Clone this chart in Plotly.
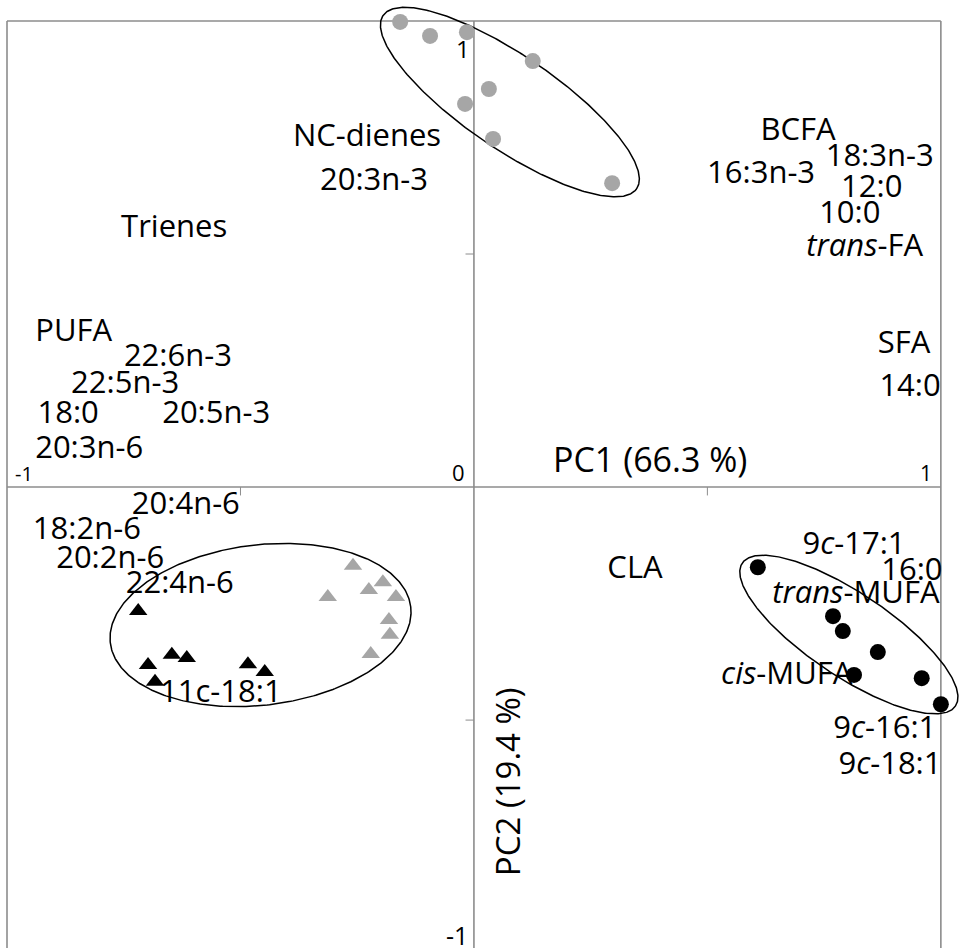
import numpy as np
import plotly.graph_objects as go

# ---- data (PC1, PC2 coordinates) ----
gray_circle_x = [-0.158, -0.094, -0.015, 0.126, 0.032, -0.019, 0.041, 0.296]
gray_circle_y = [0.998, 0.968, 0.976, 0.914, 0.854, 0.822, 0.747, 0.652]

black_circle_x = [0.608, 0.769, 0.790, 0.865, 0.814, 0.959, 1.000]
black_circle_y = [-0.172, -0.277, -0.309, -0.354, -0.403, -0.410, -0.466]

black_tri_x = [-0.719, -0.647, -0.615, -0.698, -0.683, -0.484, -0.448]
black_tri_y = [-0.266, -0.360, -0.367, -0.382, -0.418, -0.380, -0.397]

gray_tri_x = [-0.259, -0.313, -0.195, -0.225, -0.167, -0.182, -0.180, -0.221]
gray_tri_y = [-0.169, -0.236, -0.204, -0.221, -0.236, -0.285, -0.317, -0.358]

var_labels = ["NC-dienes", "20:3n-3", "Trienes", "BCFA", "18:3n-3", "16:3n-3",
              "12:0", "10:0", "<i>trans</i>-FA", "PUFA", "22:6n-3", "22:5n-3",
              "18:0", "20:5n-3", "20:3n-6", "20:4n-6", "18:2n-6", "20:2n-6",
              "22:4n-6", "11c-18:1", "SFA", "14:0", "CLA", "9<i>c</i>-17:1",
              "16:0", "<i>trans</i>-MUFA", "<i>cis</i>-MUFA", "9<i>c</i>-16:1",
              "9<i>c</i>-18:1"]
var_x = [-0.229, -0.214, -0.642, 0.694, 0.869, 0.615, 0.852, 0.805, 0.837,
         -0.857, -0.634, -0.747, -0.869, -0.552, -0.824, -0.617, -0.829, -0.779,
         -0.630, -0.542, 0.921, 0.934, 0.345, 0.814, 0.938, 0.818, 0.670,
         0.880, 0.891]
var_y = [0.749, 0.653, 0.554, 0.762, 0.706, 0.670, 0.640, 0.584, 0.513,
         0.329, 0.277, 0.219, 0.155, 0.155, 0.080, -0.042, -0.094, -0.156,
         -0.210, -0.444, 0.305, 0.213, -0.178, -0.126, -0.182, -0.233, -0.405,
         -0.521, -0.598]

# ellipses: centre x, centre y, semi-major, semi-minor, angle (deg)
ellipse_cx = [0.077, 0.803, -0.457]
ellipse_cy = [0.826, -0.3165, -0.296]
ellipse_a = [0.329, 0.275, 0.324]
ellipse_b = [0.100, 0.089, 0.172]
ellipse_ang = [-34.4, -33.9, 6.9]

tick_vals_text = ["1", "0", "-1", "1", "-1"]

GRAY = "#a6a6a6"
AX = "#8c8c8c"
FONT = "Open Sans"

fig = go.Figure()

# ellipses
t = np.linspace(0, 2 * np.pi, 400)
for cx, cy, a, b, ang in zip(ellipse_cx, ellipse_cy, ellipse_a, ellipse_b, ellipse_ang):
    p = np.deg2rad(ang)
    ex = cx + a * np.cos(t) * np.cos(p) - b * np.sin(t) * np.sin(p)
    ey = cy + a * np.cos(t) * np.sin(p) + b * np.sin(t) * np.cos(p)
    fig.add_trace(go.Scatter(x=ex, y=ey, mode="lines",
                             line=dict(color="black", width=1.5),
                             hoverinfo="skip", showlegend=False))

fig.add_trace(go.Scatter(x=gray_circle_x, y=gray_circle_y, mode="markers",
                         marker=dict(symbol="circle", size=16, color=GRAY),
                         showlegend=False, cliponaxis=False))
fig.add_trace(go.Scatter(x=black_circle_x, y=black_circle_y, mode="markers",
                         marker=dict(symbol="circle", size=16, color="black"),
                         showlegend=False, cliponaxis=False))
fig.add_trace(go.Scatter(x=black_tri_x, y=black_tri_y, mode="markers",
                         marker=dict(symbol="triangle-up", size=16, color="black"),
                         showlegend=False))
fig.add_trace(go.Scatter(x=gray_tri_x, y=gray_tri_y, mode="markers",
                         marker=dict(symbol="triangle-up", size=16, color=GRAY),
                         showlegend=False))

fig.add_trace(go.Scatter(x=var_x, y=var_y, mode="text", text=var_labels,
                         textposition="middle center",
                         textfont=dict(family=FONT, size=31, color="black"),
                         showlegend=False, cliponaxis=False))

# frame and axes
shapes = []
line = dict(color=AX, width=1.6)
shapes.append(dict(type="line", x0=-1, x1=-1, y0=1, y1=-1.1, line=line, layer="below"))
shapes.append(dict(type="line", x0=1, x1=1, y0=1, y1=-1.1, line=line, layer="below"))
shapes.append(dict(type="line", x0=-1, x1=1, y0=1, y1=1, line=line, layer="below"))
shapes.append(dict(type="line", x0=-1, x1=1, y0=0, y1=0, line=line, layer="below"))
shapes.append(dict(type="line", x0=0, x1=0, y0=1, y1=-1.1, line=line, layer="below"))
tl = 0.018
for v in [-0.5, 0.5]:
    shapes.append(dict(type="line", x0=v, x1=v, y0=0, y1=-tl,
                       line=dict(color=AX, width=1), layer="below"))
    shapes.append(dict(type="line", x0=0, x1=-tl, y0=v, y1=v,
                       line=dict(color=AX, width=1), layer="below"))

annotations = []
tick_pos = [(-0.024, 0.942, 24), (-0.034, 0.032, 22), (-0.964, 0.030, 20),
            (0.968, 0.030, 21), (-0.036, -0.962, 25)]
for txt, (x, y, s) in zip(tick_vals_text, tick_pos):
    annotations.append(dict(x=x, y=y, text=txt, showarrow=False,
                            font=dict(family=FONT, size=s, color="black"),
                            xanchor="center", yanchor="middle"))
annotations.append(dict(x=0.377, y=0.060, text="PC1 (66.3 %)", showarrow=False,
                        font=dict(family=FONT, size=34, color="black"),
                        xanchor="center", yanchor="middle"))
annotations.append(dict(x=0.071, y=-0.633, text="PC2 (19.4 %)", showarrow=False,
                        textangle=-90,
                        font=dict(family=FONT, size=33, color="black"),
                        xanchor="center", yanchor="middle"))

fig.update_layout(
    width=960, height=948,
    margin=dict(l=0, r=0, t=0, b=0),
    paper_bgcolor="white", plot_bgcolor="white",
    xaxis=dict(range=[-1.015, 1.041], visible=False, fixedrange=True),
    yaxis=dict(range=[-0.989, 1.045], visible=False, fixedrange=True),
    shapes=shapes, annotations=annotations,
    showlegend=False,
)

fig.write_html("out.html", config={"displayModeBar": False},
               post_script="document.body.style.margin='0px';document.body.style.overflow='hidden';")
